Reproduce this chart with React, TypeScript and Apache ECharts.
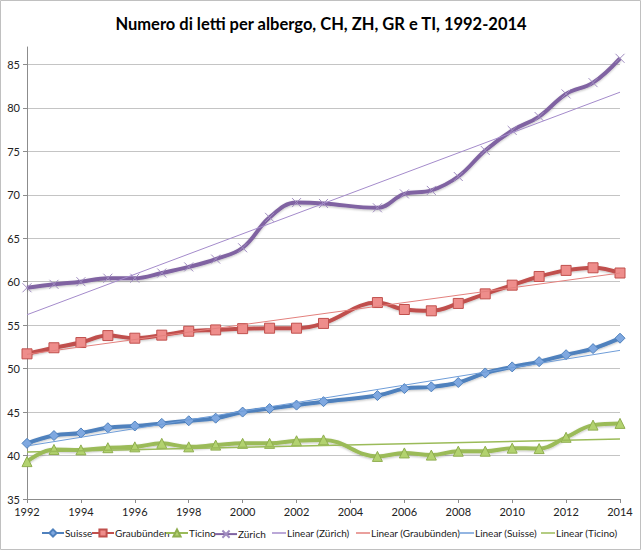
import React, { useEffect, useRef } from 'react';
import * as echarts from 'echarts';

const years = [1992, 1993, 1994, 1995, 1996, 1997, 1998, 1999, 2000, 2001, 2002, 2003, 2005, 2006, 2007, 2008, 2009, 2010, 2011, 2012, 2013, 2014];
const suisse = [41.4, 42.3, 42.6, 43.2, 43.4, 43.7, 44.0, 44.3, 45.0, 45.4, 45.8, 46.2, 46.9, 47.7, 47.9, 48.4, 49.5, 50.2, 50.8, 51.6, 52.3, 53.5];
const graubuenden = [51.7, 52.4, 53.0, 53.8, 53.5, 53.85, 54.3, 54.45, 54.6, 54.65, 54.65, 55.2, 57.6, 56.8, 56.65, 57.5, 58.6, 59.6, 60.6, 61.3, 61.6, 61.0];
const ticino = [39.3, 40.7, 40.65, 40.9, 41.0, 41.4, 41.0, 41.2, 41.4, 41.4, 41.7, 41.8, 39.9, 40.3, 40.05, 40.5, 40.5, 40.85, 40.8, 42.1, 43.5, 43.7];
const zurich = [59.3, 59.7, 60.0, 60.4, 60.4, 61.0, 61.7, 62.6, 63.9, 67.4, 69.1, 69.0, 68.5, 70.1, 70.5, 72.1, 75.1, 77.4, 79.0, 81.6, 82.9, 85.7];

const trendYears = [1992, 2014];
const trendZurich = [56.2, 81.8];
const trendGraubuenden = [51.65, 61.0];
const trendSuisse = [41.1, 52.1];
const trendTicino = [40.4, 41.9];

const mainNames = ['Suisse', 'Graubünden', 'Ticino', 'Zürich'];
const trendNames = ['Linear (Zürich)', 'Linear (Graubünden)', 'Linear (Suisse)', 'Linear (Ticino)'];

const FONT = 'Lato';

const pairs = (xs: number[], ys: number[]) => xs.map((x, i) => [x, ys[i]]);

export default function App() {
  const ref = useRef<HTMLDivElement>(null);
  useEffect(() => {
    if (!ref.current) return;
    const chart = echarts.init(ref.current, undefined, { renderer: 'svg' });
    const mainLine = (name: string, ys: number[], color: string, symbol: string, symbolSize: number, fill: string, border: string, borderWidth = 1) => ({
      name,
      type: 'line',
      data: pairs(years, ys),
      smooth: 0.4,
      symbol,
      symbolSize,
      lineStyle: { color, width: 4, shadowColor: 'rgba(0,0,0,0.25)', shadowBlur: 2, shadowOffsetY: 1 },
      itemStyle: { color: fill, borderColor: border, borderWidth },
      color,
      z: 2,
    });
    const trend = (name: string, ys: number[], color: string, width = 1) => ({
      name,
      type: 'line',
      data: pairs(trendYears, ys),
      symbol: 'none',
      lineStyle: { color, width },
      itemStyle: { color },
      color,
      z: 3,
    });
    const mainLefts = [36, 86, 160, 209];
    const trendLefts = [267, 351, 455, 536];
    const legendText = { fontFamily: FONT, fontSize: 10, color: '#222', padding: [0, 0, 0, -4] };
    const legends = [
      ...mainNames.map((n, i) => ({
        data: [n],
        left: mainLefts[i],
        top: 523,
        itemWidth: 22,
        itemHeight: 9,
        textStyle: legendText,
      })),
      ...trendNames.map((n, i) => ({
        data: [{ name: n, icon: 'rect' }],
        left: trendLefts[i],
        top: 523,
        itemWidth: 14,
        itemHeight: 1.5,
        textStyle: legendText,
      })),
    ];
    chart.setOption({
      animation: false,
      backgroundColor: '#ffffff',
      textStyle: { fontFamily: FONT },
      title: {
        text: 'Numero di letti per albergo, CH, ZH, GR e TI, 1992-2014',
        left: 'center',
        top: 10,
        textStyle: { fontFamily: FONT, fontSize: 16.5, fontWeight: 'bold', color: '#000' },
      },
      graphic: [
        {
          type: 'rect',
          shape: { x: 0.5, y: 0.5, width: 640, height: 549 },
          style: { fill: 'none', stroke: '#c0c0c0', lineWidth: 1 },
          silent: true,
        },
      ],
      grid: { left: 27, right: 22, top: 47, bottom: 53, containLabel: false },
      xAxis: {
        type: 'value',
        min: 1992,
        max: 2014,
        interval: 2,
        axisLine: { show: true, lineStyle: { color: '#8c8c8c' } },
        axisTick: { show: true, length: 4, lineStyle: { color: '#8c8c8c' } },
        splitLine: { show: false },
        axisLabel: { color: '#222', fontSize: 11, fontFamily: FONT, margin: 7, formatter: (v: number) => String(v) },
      },
      yAxis: {
        type: 'value',
        min: 35,
        max: 87,
        interval: 5,
        axisLine: { show: true, lineStyle: { color: '#8c8c8c' } },
        axisTick: { show: true, length: 4, lineStyle: { color: '#8c8c8c' } },
        splitLine: { show: true, showMinLine: false, showMaxLine: false, lineStyle: { color: '#c4c4c4', width: 1 } },
        axisLabel: { color: '#222', fontSize: 11, fontFamily: FONT, margin: 7, showMaxLabel: false },
      },
      legend: legends,
      series: [
        mainLine('Suisse', suisse, '#4f81bd', 'diamond', 10, '#7fa8e0', '#4f81bd'),
        mainLine('Graubünden', graubuenden, '#c0504d', 'rect', 10, '#ee8d8b', '#c0504d'),
        mainLine('Ticino', ticino, '#9bbb59', 'triangle', 10, '#b2d26f', '#8fae4f'),
        mainLine('Zürich', zurich, '#8064a2', 'path://M0,0L10,10M10,0L0,10', 9, 'none', '#a08cc0', 1),
        trend('Linear (Zürich)', trendZurich, '#a48bcb', 1),
        trend('Linear (Graubünden)', trendGraubuenden, '#e3807d', 1),
        trend('Linear (Suisse)', trendSuisse, '#6f9dd8', 1),
        trend('Linear (Ticino)', trendTicino, '#9bbb59', 1.5),
      ],
    });
    return () => chart.dispose();
  }, []);
  return <div ref={ref} style={{ position: 'absolute', left: 0, top: 0, width: 642, height: 552 }} />;
}
